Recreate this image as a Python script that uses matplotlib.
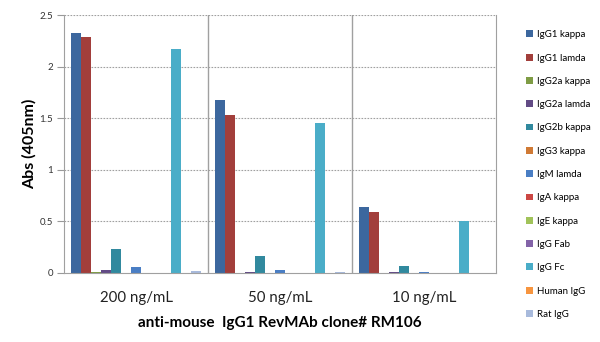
import matplotlib.pyplot as plt
import numpy as np

plt.rcParams["font.family"] = ["Lato", "DejaVu Sans"]

concentrations = ["200 ng/mL", "50 ng/mL", "10 ng/mL"]
isotypes = [
    "IgG1 kappa", "IgG1 lamda", "IgG2a kappa", "IgG2a lamda", "IgG2b kappa",
    "IgG3 kappa", "IgM lamda", "IgA kappa", "IgE kappa", "IgG Fab",
    "IgG Fc", "Human IgG", "Rat IgG",
]
# absorbance per isotype at 200 / 50 / 10 ng/mL
abs_200 = [2.33, 2.29, 0.005, 0.03, 0.23, 0.0, 0.055, 0.0, 0.0, 0.0, 2.17, 0.0, 0.02]
abs_50 = [1.68, 1.53, 0.0, 0.01, 0.165, 0.0, 0.025, 0.0, 0.0, 0.0, 1.45, 0.0, 0.005]
abs_10 = [0.64, 0.595, 0.0, 0.01, 0.065, 0.0, 0.01, 0.0, 0.0, 0.0, 0.50, 0.0, 0.0]

colors = [
    "#3c679e", "#a23e3b", "#7f9c45", "#624b85", "#31899e", "#d07a35",
    "#4a7ec4", "#cc4744", "#a1c35a", "#8363a8", "#4aadc8", "#f7953f", "#a8badc",
]

data = np.array([abs_200, abs_50, abs_10])

fig = plt.figure(figsize=(6, 3.42), dpi=100)
ax = fig.add_axes([0.1067, 0.2018, 0.72, 0.754])

n = len(isotypes)
group_w = 0.9
w = group_w / n
x = np.arange(len(concentrations))
handles = []
for i in range(n):
    pos = x - group_w / 2 + w * (i + 0.5)
    b = ax.bar(pos, data[:, i], width=w, color=colors[i], label=isotypes[i])
    handles.append(b)

ax.set_xlim(-0.5, 2.5)
ax.set_ylim(0, 2.5)
ax.set_yticks(np.arange(0, 2.51, 0.5))
ax.set_yticklabels(["0", "0.5", "1", "1.5", "2", "2.5"], fontsize=7, color="#333333")
ax.set_xticks(x)
ax.set_xticklabels(concentrations, fontsize=10.8, color="#222222")
ax.tick_params(axis="x", length=0, pad=13)
ax.tick_params(axis="y", length=5, color="#999999", pad=3)

for y in np.arange(0.5, 2.51, 0.5):
    ax.axhline(y, color="#a0a0a0", linestyle=(0, (1.5, 1.2)), linewidth=0.8, zorder=0)
for xv in [0.5, 1.5]:
    ax.axvline(xv, color="#a0a0a0", linewidth=1.0, zorder=0)

for side in ["left", "bottom", "right"]:
    ax.spines[side].set_color("#a0a0a0")
ax.spines["top"].set_visible(False)

ax.set_ylabel("Abs (405nm)", fontsize=11.5, fontweight="bold", labelpad=2)
ax.set_xlabel("anti-mouse  IgG1 RevMAb clone# RM106", fontsize=11,
              fontweight="bold", labelpad=8)

leg = fig.legend(handles=handles, labels=isotypes, loc="upper left",
                 bbox_to_anchor=(0.862, 0.937), frameon=False, fontsize=7,
                 handlelength=0.7, handleheight=0.7, handletextpad=0.4,
                 labelspacing=1.47)

fig.savefig("out.png", dpi=100)
